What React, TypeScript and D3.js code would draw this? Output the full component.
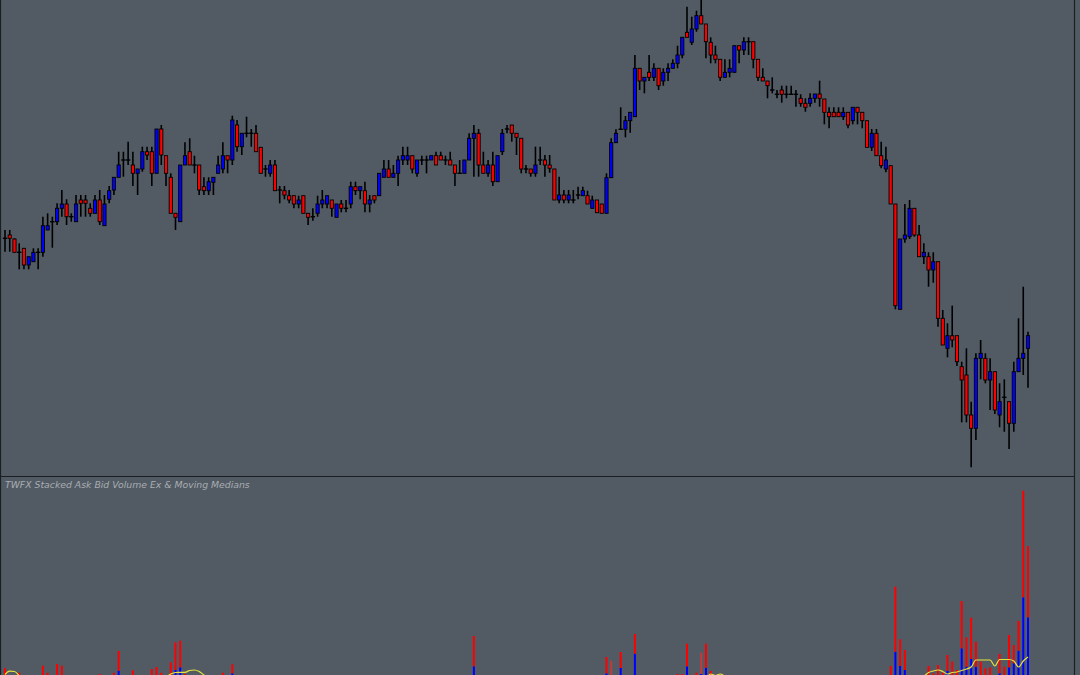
import React from 'react';
import * as d3 from 'd3';

const W = 1080;
const H = 675;

// Price candles (arbitrary price units)
const openP = [
  231.7, 235, 231, 217.7, 221.7, 205, 208.3, 217.7, 217.7, 240,
  248.3, 248.3, 261.7, 266, 253.3, 248.3, 270, 270, 261.7, 256.7,
  270, 244.3, 270.7, 280, 292.7, 310, 310, 305, 296.7, 301,
  318.3, 318.3, 296.7, 341, 314.3, 292.7, 256.7, 248.3, 305, 318.3,
  305, 305, 283.3, 279.3, 287.7, 296.7, 301, 314.3, 310, 345,
  323.3, 336.7, 336.7, 336.7, 322.7, 301, 296.7, 305, 280, 279.3,
  274.3, 274.3, 266, 274.3, 256.7, 253.3, 256.7, 266, 266, 270,
  252.7, 266, 261.7, 266, 283.3, 279.3, 279.3, 266, 274.3, 274.3,
  292.7, 301, 292.7, 296.7, 310, 310, 314.3, 296.7, 310, 310,
  310, 314.3, 314.3, 310, 310, 305, 296.7, 296.7, 310, 331.7,
  336.7, 305, 296.7, 305, 288.3, 318.3, 341, 345, 336.7, 331.7,
  301, 301, 296.7, 310, 310, 305, 301, 270, 275, 270,
  270, 275, 274.3, 274.3, 261.7, 270, 266, 256.7, 292.3, 327.3,
  340.7, 340.7, 349.3, 353.3, 401.7, 389, 397.7, 392.7, 401.7, 389,
  397.7, 401.7, 406.7, 415, 437.7, 427.7, 441, 454.3, 446, 427.7,
  415, 410.7, 392.7, 397.7, 397.7, 424.3, 420, 428.3, 428.3, 410.7,
  392.7, 389, 380, 375.7, 380, 375.7, 375.7, 375.7, 371.7, 366.7,
  366.7, 371.7, 376, 371, 357.7, 357.7, 357.7, 353.3, 357.7, 349.3,
  362.7, 357.7, 349.3, 322.7, 336.7, 314.3, 301, 304.3, 266, 160.7,
  231, 233.3, 261.7, 235, 213.3, 213.3, 200, 208.3, 151.7, 121.7,
  134.3, 134.3, 103.3, 95, 55, 41.7, 111.7, 111.7, 90, 98.3,
  55, 72.7, 68.3, 46.7, 98.3, 111.7, 121.7,
];
const highP = [
  240, 240, 231.7, 226.7, 221.7, 213.3, 221.7, 221.7, 253.3, 256.7,
  253.3, 266.7, 280, 270.7, 256.7, 275, 275, 275, 266.7, 275,
  280, 275, 284, 292.7, 318.3, 318.3, 328.3, 318.3, 301, 323.3,
  323.3, 323.3, 341, 345, 314.3, 296.7, 256.7, 305, 327.7, 331.7,
  314.3, 305, 292.7, 292.7, 292.7, 314.3, 327.7, 314.3, 354.3, 350,
  336.7, 353.3, 341, 345, 322.7, 305, 310, 310, 284, 284,
  280, 274.3, 274.3, 274.3, 256.7, 261.7, 274.3, 280, 274.3, 270,
  266, 270, 270, 288.3, 288.3, 283.3, 288.3, 275, 274.3, 296.7,
  310, 310, 305, 314.3, 323.3, 323.3, 314.3, 310, 314.3, 314.3,
  314.3, 318.3, 318.3, 314.3, 318.3, 305, 310, 310, 336.7, 345,
  341, 318.3, 310, 318.3, 314.3, 341, 345, 345, 336.7, 331.7,
  305, 301, 323.3, 323.3, 315, 315, 301, 293.3, 280, 280,
  280, 283.3, 283.3, 279.3, 274.3, 270, 266, 296.7, 331.7, 340.7,
  362.7, 354, 357.7, 415, 401.7, 392.7, 415, 406.7, 401.7, 401.7,
  406.7, 410.7, 424.3, 432.7, 463.3, 453.3, 459.3, 470, 446, 432.7,
  424.3, 410.7, 410.7, 410.7, 424.3, 424.3, 432.7, 432.7, 428.3, 410.7,
  401.7, 389, 392.7, 380, 384.3, 384.3, 384.3, 380, 375.7, 371.7,
  376.7, 376, 389.3, 371, 362.7, 362.7, 362.7, 362.7, 357.7, 362.7,
  362.7, 357.7, 349.3, 341, 341, 328.3, 323.3, 304.3, 266, 231,
  266, 270, 261.7, 245, 226.7, 217.7, 217.7, 208.3, 160, 146.7,
  164.3, 134.3, 108.3, 121.7, 68.3, 116.7, 130, 116.7, 111.7, 98.3,
  86.7, 90.7, 68.3, 108.3, 151.7, 183.3, 138.3,
];
const lowP = [
  218.3, 218.3, 217.7, 200.7, 200.7, 200.7, 208.3, 200.7, 213.3, 240,
  222.3, 245, 253.3, 245, 248.3, 248.3, 253.3, 253.3, 253.3, 256.7,
  245, 244.3, 266.7, 275, 292.7, 293.3, 305, 284, 275, 298.3,
  310, 284, 296.7, 305, 284, 256.7, 240, 248.3, 305, 305,
  296.7, 275, 275, 275, 275, 296.7, 296.7, 296.7, 305, 318.3,
  315, 332.7, 323.3, 318.3, 296.7, 293.3, 293.3, 279.3, 266.7, 270.7,
  266.7, 261.7, 261.7, 256.7, 245, 249.3, 253.3, 261.7, 261.7, 253.3,
  252.7, 257.7, 257.7, 261.7, 275, 270.7, 257.7, 257.7, 266.7, 274.3,
  292.7, 292.7, 292.7, 284, 305, 305, 296.7, 293.3, 305, 296.7,
  310, 305, 310, 305, 305, 284, 296.7, 296.7, 310, 293.3,
  293.3, 296.7, 293.3, 284, 288.3, 315, 336.7, 328.3, 315, 296.7,
  296.7, 293.3, 293.3, 305, 293.3, 297.3, 270, 266.7, 266.7, 266.7,
  266.7, 270.7, 274.3, 266, 261.7, 257.3, 256.7, 256.7, 292.3, 327.3,
  340.7, 332.7, 337.3, 353.3, 380, 376.7, 389, 389, 380, 384.3,
  389, 401.7, 401.7, 411.7, 432.7, 425, 438.3, 446, 411.7, 406.7,
  406.7, 389, 392.7, 392.7, 397.7, 406.7, 415, 415, 401.7, 389,
  389, 371.7, 376.7, 371.7, 367.3, 371.7, 375.7, 363.3, 363.3, 358.3,
  363.3, 367.3, 363.3, 345.7, 341.7, 353.3, 353.3, 350, 341.7, 345.7,
  345.7, 341.7, 322.7, 319, 314.3, 301.7, 297.7, 266, 160.7, 160.7,
  227.3, 231, 233.3, 213.3, 206, 183.3, 187.3, 143.3, 125, 112.7,
  122.7, 104, 47.7, 47.7, 2.7, 30, 90.7, 86.7, 60, 56,
  42.7, 38.3, 21, 38.3, 98.3, 95, 82.3,
];
const closeP = [
  231.7, 231.7, 217.7, 217.7, 205, 213.3, 217.7, 217.7, 244.3, 244.3,
  248.3, 261.7, 266, 253.3, 253.3, 266, 266.7, 266.7, 256.7, 270,
  248.3, 266, 279.3, 292.7, 305, 310, 310, 296.7, 301, 318.3,
  315, 296.7, 341, 315, 296.7, 256.7, 252.7, 305, 314.3, 305,
  305, 280, 279.3, 288.3, 292.7, 305, 314.3, 310, 350, 323.3,
  336.7, 336.7, 336.7, 318.3, 296.7, 301, 305, 279.3, 280, 275,
  270, 266, 270, 256.7, 252.7, 253.3, 266, 270, 274.3, 261.7,
  266, 261.7, 261.7, 283.3, 279.3, 283.3, 266, 270, 270, 296.7,
  301, 292.7, 296.7, 310, 314.3, 314.3, 301, 310, 310, 310,
  314.3, 305, 310, 310, 305, 296.7, 296.7, 310, 331.7, 336.7,
  305, 296.7, 305, 288.3, 314.3, 336.7, 341, 336.7, 332.7, 301,
  301, 296.7, 305, 310, 305, 301.7, 270, 275, 270, 275,
  270, 275, 279.3, 266, 270, 257.3, 256.7, 292.3, 327.3, 336.7,
  340.7, 349.3, 357.7, 401.7, 389, 392.7, 392.7, 401.7, 384.3, 397.7,
  401.7, 406.7, 415, 432.7, 432.7, 441, 454.3, 446, 428.3, 415,
  410.7, 392.7, 397.7, 401.7, 424.3, 420, 428.3, 428.3, 410.7, 392.7,
  389, 384.3, 380, 375.7, 375.7, 375.7, 375.7, 375.7, 366.7, 362.7,
  371.7, 376, 371.7, 357.7, 353.3, 353.3, 353.3, 357.7, 345, 362.7,
  357.7, 349.3, 322.7, 336.7, 314.3, 304.3, 310, 266, 164.3, 231,
  235, 261.7, 235, 213.3, 217.7, 200, 208.3, 151.7, 125, 134.3,
  130, 108.3, 90, 55, 41.7, 111.7, 116.7, 90, 98.3, 60,
  68.3, 72.7, 46.7, 98.3, 111.7, 116.7, 134.3,
];

// Volume pane: bid (blue, bottom) and ask (red, stacked on top)
const bidVol = [
  14, 9, 9, 12, 8, 7, 7, 8, 15, 12,
  9, 16, 15, 9, 6, 9, 8, 7, 7, 8,
  12, 9, 8, 12, 29.3, 9, 9, 13, 8, 9,
  7, 14, 15, 12, 9, 17, 30, 32.7, 12, 10,
  8, 9, 7, 7, 7, 8, 12, 7, 26.7, 10,
  8, 8, 7, 8, 9, 6, 7, 9, 7, 6,
  6, 7, 6, 8, 6, 6, 7, 7, 6, 7,
  7, 6, 6, 8, 6, 6, 8, 6, 6, 8,
  7, 7, 6, 8, 7, 7, 7, 7, 5, 6,
  5, 6, 5, 5, 6, 7, 6, 7, 9, 33.7,
  10, 8, 7, 9, 9, 9, 6, 7, 7, 9,
  5, 5, 7, 7, 6, 6, 9, 7, 6, 6,
  5, 5, 5, 6, 6, 7, 6, 26.7, 18, 8,
  32, 8, 8, 46.3, 9, 8, 9, 8, 8, 8,
  7, 7, 12, 12, 33.7, 9, 12, 26, 32.3, 13,
  8, 9, 8, 7, 9, 7, 7, 7, 8, 8,
  6, 7, 6, 5, 6, 5, 5, 6, 5, 6,
  5, 5, 7, 7, 6, 5, 5, 5, 6, 6,
  6, 6, 9, 8, 9, 9, 9, 15, 48.3, 34,
  30, 9, 9, 9, 8, 15, 12, 15, 12, 29.3,
  17, 13, 51.7, 33.3, 41, 33.3, 17, 14, 14, 10,
  26.7, 15, 32.7, 36.7, 49.3, 102.7, 82.7,
];
const askVol = [
  17.7, 12, 11, 15.3, 11, 9, 10, 10, 19.3, 15.3,
  11, 20, 19.3, 12, 8, 12, 10, 9, 9, 11,
  14, 12, 10, 15.3, 19.7, 11, 12, 16.7, 10, 12,
  9, 17, 18, 15.3, 12, 20.7, 27.7, 26.6, 14, 12,
  10, 12, 9, 9, 9, 10, 15.3, 9, 9, 12,
  10, 10, 9, 11, 12, 8, 9, 12, 9, 8,
  8, 9, 8, 11, 8, 8, 9, 9, 8, 9,
  9, 8, 8, 10, 8, 8, 10, 8, 8, 11,
  9, 9, 8, 10, 9, 9, 9, 9, 7, 8,
  7, 8, 7, 7, 8, 9, 8, 9, 12, 30.3,
  13, 10, 9, 12, 12, 12, 8, 9, 9, 12,
  7, 7, 9, 9, 8, 8, 12, 9, 8, 8,
  7, 7, 7, 8, 8, 9, 8, 16.3, 21.3, 11,
  16, 10, 10, 19.7, 12, 10, 12, 10, 10, 10,
  9, 9, 14, 14, 22.6, 12, 15.3, 21.3, 24, 16,
  10, 11, 10, 9, 11, 9, 9, 9, 11, 11,
  8, 9, 8, 7, 8, 7, 7, 8, 7, 8,
  7, 7, 9, 9, 8, 7, 7, 7, 8, 8,
  8, 8, 11, 10, 11, 11, 11, 19, 65, 26.7,
  20, 12, 12, 12, 10, 19, 14.7, 20, 15.3, 15.7,
  21.3, 17, 47.3, 29.4, 41.3, 25, 21.3, 17.7, 18.7, 12,
  19.3, 18.3, 32.3, 18.3, 29.7, 106.6, 71.3,
];
// Moving median of total volume
const medianVol = [
  25.5, 28.8, 28.5, 24.5, 21, 20, 20, 20, 21, 21,
  20, 21, 21, 20, 19, 19, 19, 19, 19, 19,
  20, 20, 19, 20, 21, 21, 21, 21, 21, 21,
  21, 22, 22, 22, 23, 26, 27.5, 27.7, 27.7, 29.5,
  30, 28.5, 25, 21, 20, 20, 20, 20, 21, 21,
  20, 20, 19, 19, 18, 18, 17, 17, 17, 17,
  16, 16, 16, 16, 16, 16, 16, 16, 16, 16,
  16, 16, 16, 16, 16, 16, 16, 16, 16, 16,
  16, 16, 16, 16, 16, 16, 16, 16, 16, 16,
  15, 15, 15, 15, 15, 15, 15, 15, 16, 17,
  17, 17, 17, 17, 17, 17, 16, 16, 16, 16,
  15, 15, 15, 15, 15, 15, 15, 15, 15, 15,
  15, 15, 15, 15, 15, 15, 15, 16, 17, 18,
  19, 19, 20, 20, 20, 20, 20, 20, 20, 20,
  20, 20, 21, 22, 22, 22, 23, 23, 23, 26,
  24.5, 26, 24, 22, 21, 20, 19, 19, 18, 18,
  17, 16, 15, 15, 15, 15, 15, 15, 15, 15,
  15, 15, 15, 15, 15, 15, 15, 15, 15, 15,
  15, 16, 17, 18, 19, 20, 20, 21, 22, 22,
  23, 23, 23, 23, 24, 27.5, 29, 30, 28.5, 26,
  27.5, 28, 29.5, 31, 33, 40, 40, 40, 40, 34,
  40.5, 40.5, 40.5, 39, 33, 39, 43,
];
const dimBars = [129, 148]; // 1-based bar numbers drawn in a muted red
const paneTitle = 'TWFX Stacked Ask Bid Volume Ex & Moving Medians';

const BG = '#525b64';
const BORDER = '#1c1f22';

export default function App() {
  const n = openP.length;
  const x = d3.scaleLinear().domain([0, n - 1]).range([5, 1028]);
  const y = d3.scaleLinear().domain([0, 470]).range([470, 0]);
  const yv = d3.scaleLinear().domain([0, 220]).range([700, 480]);

  const medianLine = d3
    .line<number>()
    .x((_, i) => x(i))
    .y((v) => yv(v))
    .curve(d3.curveMonotoneX);

  const candles = d3.range(n).map((i) => {
    const o = openP[i];
    const c = closeP[i];
    const cx = x(i);
    const wick = (
      <line
        key={'w' + i}
        x1={cx}
        x2={cx}
        y1={y(highP[i])}
        y2={y(lowP[i])}
        stroke="#000"
        strokeWidth={1.6}
      />
    );
    if (o === c) {
      return (
        <g key={i}>
          {wick}
          <line x1={cx - 2.2} x2={cx + 2.2} y1={y(c)} y2={y(c)} stroke="#000" strokeWidth={1.4} />
        </g>
      );
    }
    const top = y(Math.max(o, c));
    const bot = y(Math.min(o, c));
    return (
      <g key={i}>
        {wick}
        <rect
          x={cx - 1.6}
          y={top}
          width={3.2}
          height={Math.max(bot - top, 1)}
          fill={c > o ? '#0000ff' : '#ff0000'}
          stroke="#000"
          strokeWidth={0.9}
        />
      </g>
    );
  });

  const volBars = d3.range(n).map((i) => {
    const cx = x(i);
    const b = bidVol[i];
    const a = askVol[i];
    const dim = dimBars.includes(i + 1);
    return (
      <g key={'v' + i}>
        <rect x={cx - 1} y={yv(b)} width={2} height={yv(0) - yv(b)} fill="#0000ff" />
        <rect
          x={cx - 1}
          y={yv(a + b)}
          width={2}
          height={yv(b) - yv(a + b)}
          fill={dim ? '#c23a3a' : '#ff0000'}
        />
      </g>
    );
  });

  return (
    <svg
      width={W}
      height={H}
      style={{ position: 'absolute', left: 0, top: 0, display: 'block' }}
      xmlns="http://www.w3.org/2000/svg"
    >
      <defs>
        <clipPath id="pricePane">
          <rect x={1} y={0} width={1073} height={476} />
        </clipPath>
        <clipPath id="volPane">
          <rect x={1} y={477} width={1073} height={H - 477} />
        </clipPath>
      </defs>
      <rect x={0} y={0} width={W} height={H} fill={BG} />
      <g clipPath="url(#pricePane)">{candles}</g>
      <g clipPath="url(#volPane)">
        {volBars}
        <path d={medianLine(medianVol) || ''} fill="none" stroke="#e8e23a" strokeWidth={1.2} />
      </g>
      <line x1={0} x2={1075} y1={476.5} y2={476.5} stroke={BORDER} strokeWidth={1.2} />
      <line x1={0.5} x2={0.5} y1={0} y2={H} stroke={BORDER} strokeWidth={1.2} />
      <line x1={1074.5} x2={1074.5} y1={0} y2={H} stroke={BORDER} strokeWidth={1.2} />
      <text
        x={5}
        y={487.5}
        fontFamily="'DejaVu Sans', sans-serif"
        fontStyle="italic"
        fontSize={9.3}
        fill="#a9adb2"
      >
        {paneTitle}
      </text>
    </svg>
  );
}
